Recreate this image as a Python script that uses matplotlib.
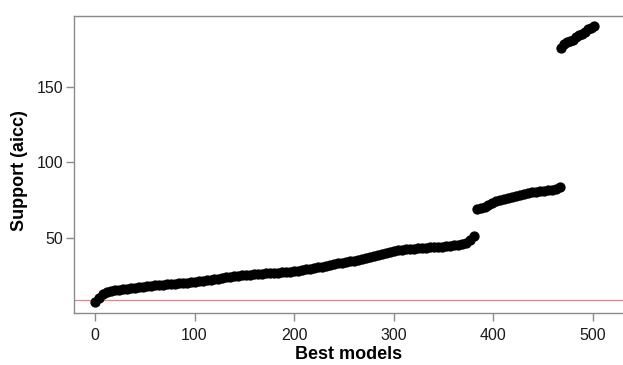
import numpy as np
import matplotlib
matplotlib.use("Agg")
import matplotlib.pyplot as plt

plt.rcParams['font.family'] = ['Liberation Sans', 'DejaVu Sans']

# support (aicc) of the best models, sorted; every few models
seg1_x = np.arange(0, 384, 4)
seg1_y = [7.5, 10.5, 13.3, 14.4, 15.0, 15.5, 15.9, 16.3, 16.6, 16.9,
          17.2, 17.5, 17.8, 18.1, 18.4, 18.7, 18.9, 19.1, 19.4, 19.6,
          19.8, 20.0, 20.3, 20.6, 20.9, 21.2, 21.5, 21.8, 22.1, 22.4,
          22.7, 23.1, 23.6, 24.1, 24.5, 24.8, 25.1, 25.3, 25.5, 25.8,
          26.0, 26.2, 26.4, 26.6, 26.8, 27.0, 27.2, 27.4, 27.6, 27.8,
          28.0, 28.4, 28.8, 29.3, 29.8, 30.3, 30.8, 31.2, 31.7, 32.2,
          32.7, 33.2, 33.7, 34.1, 34.6, 35.1, 35.7, 36.3, 37.0, 37.6,
          38.2, 38.8, 39.5, 40.1, 40.8, 41.4, 42.0, 42.4, 42.7, 42.9,
          43.1, 43.3, 43.5, 43.6, 43.8, 44.0, 44.2, 44.4, 44.6, 44.8,
          45.1, 45.6, 46.2, 47.0, 48.5, 51.5]

seg2_x = np.arange(383, 468, 4)
seg2_y = [69.0, 69.8, 70.8, 71.8, 73.0, 74.2, 75.2, 75.9, 76.6, 77.3,
          77.9, 78.5, 79.0, 79.6, 80.1, 80.5, 80.8, 81.1, 81.5, 81.9,
          82.6, 84.0]

seg3_x = np.arange(468, 504, 3)
seg3_y = [175.5, 178.5, 179.6, 180.2, 181.0, 182.6, 184.0, 185.0, 186.3,
          187.8, 189.0, 190.0]

limiar = 9.3  # linha de referencia (vermelha)

modelos = np.concatenate([seg1_x, seg2_x, seg3_x])
suporte = np.concatenate([seg1_y, seg2_y, seg3_y])

fig = plt.figure(figsize=(6.23, 3.65), dpi=100)
ax = fig.add_axes([74 / 623, 52 / 365, 549 / 623, 297.5 / 365])

ax.axhline(limiar, color='#f08080', lw=0.9, zorder=1)
ax.plot(modelos, suporte, 'o', color='black', ms=6.4, mec='black', zorder=2)

ax.set_xlim(-21, 530)
ax.set_ylim(0.5, 197)
ax.set_xticks([0, 100, 200, 300, 400, 500])
ax.set_yticks([50, 100, 150])

cinza = '#8a8a8a'
for lado in ['left', 'top', 'bottom']:
    ax.spines[lado].set_color(cinza)
    ax.spines[lado].set_linewidth(1.0)
ax.spines['right'].set_visible(False)

ax.tick_params(axis='both', direction='out', length=6, width=1.0, color=cinza,
               labelsize=11.5, labelcolor='#1a1a1a')
ax.tick_params(axis='x', pad=5)
ax.tick_params(axis='y', pad=2)

ax.set_xlabel('Best models', fontsize=13, fontweight='bold')
ax.set_ylabel('Support (aicc)', fontsize=13, fontweight='bold')
ax.xaxis.set_label_coords(0.5, -0.111)
ax.yaxis.set_label_coords(-0.083, 0.48)

fig.savefig('out.png', dpi=100)
